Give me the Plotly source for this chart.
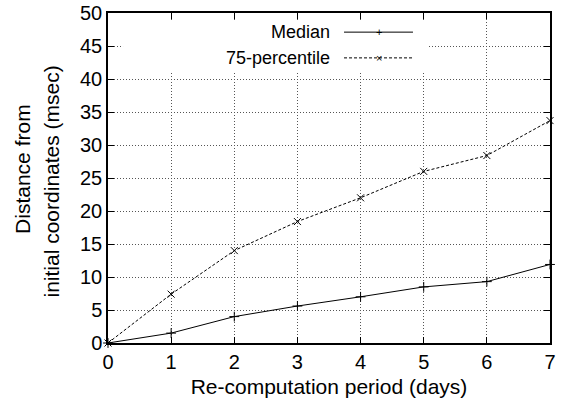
import plotly.graph_objects as go

days = [0, 1, 2, 3, 4, 5, 6, 7]
median = [0, 1.5, 4.0, 5.6, 7.0, 8.5, 9.3, 11.9]
pct75 = [0, 7.4, 14.0, 18.4, 22.0, 26.0, 28.4, 33.7]
x_ticks = [0, 1, 2, 3, 4, 5, 6, 7]
y_ticks = [0, 5, 10, 15, 20, 25, 30, 35, 40, 45, 50]

FONT = "Liberation Sans, Arial, sans-serif"
TICK_FS = 20
TITLE_FS = 21
LEG_FS = 18

fig = go.Figure()
fig.add_trace(go.Scatter(
    x=days, y=median, mode="lines+markers", name="Median",
    line=dict(color="black", width=1),
    marker=dict(symbol="cross-thin", size=7, line=dict(color="black", width=1)),
    cliponaxis=False, showlegend=False))
fig.add_trace(go.Scatter(
    x=days, y=pct75, mode="lines+markers", name="75-percentile",
    line=dict(color="black", width=1, dash="3px,2px"),
    marker=dict(symbol="x-thin", size=7, line=dict(color="black", width=1)),
    cliponaxis=False, showlegend=False))

axis_common = dict(
    showline=True, linecolor="black", linewidth=1.5, mirror="ticks",
    ticks="inside", ticklen=6, tickcolor="black", tickwidth=1,
    showgrid=True, gridcolor="#555", griddash="1px,2px", gridwidth=1,
    zeroline=False, automargin=False,
    tickfont=dict(family=FONT, size=TICK_FS, color="black"),
)

fig.update_xaxes(range=[0, 7], tickvals=x_ticks, ticktext=[str(v) for v in x_ticks],
                 title=dict(text="Re-computation period (days)",
                            font=dict(family=FONT, size=TITLE_FS, color="black"), standoff=8),
                 **axis_common)
fig.update_yaxes(range=[0, 50], tickvals=y_ticks, ticktext=[str(v) for v in y_ticks],
                 **axis_common)

# legend box (gnuplot style: text then sample)
fig.add_shape(type="rect", xref="paper", yref="paper", x0=0.034, x1=0.724, y0=0.821, y1=0.979,
              fillcolor="white", line=dict(width=0), layer="above")
leg = [("Median", 0.942, "solid", "+"), ("75-percentile", 0.864, "3px,2px", "×")]
for name, yy, dash, sym in leg:
    fig.add_annotation(xref="paper", yref="paper", x=0.507, y=yy, text=name, showarrow=False,
                       xanchor="right", yanchor="middle", font=dict(family=FONT, size=LEG_FS, color="black"))
    fig.add_shape(type="line", xref="paper", yref="paper", x0=0.534, x1=0.690, y0=yy, y1=yy,
                  line=dict(color="black", width=1, dash=dash), layer="above")
    fig.add_annotation(xref="paper", yref="paper", x=0.613, y=yy, text=sym, showarrow=False,
                       xanchor="center", yanchor="middle", font=dict(family=FONT, size=11, color="black"))

# y title (two lines)
for txt, xx, yy in [("Distance from", -0.195, 0.527), ("initial coordinates (msec)", -0.127, 0.489)]:
    fig.add_annotation(xref="paper", yref="paper", x=xx, y=yy, text=txt, textangle=-90,
                       showarrow=False, xanchor="center", yanchor="middle",
                       font=dict(family=FONT, size=TITLE_FS, color="black"))

fig.update_layout(
    width=562, height=399,
    margin=dict(l=108, r=12, t=13, b=56),
    plot_bgcolor="white", paper_bgcolor="white",
    font=dict(family=FONT, size=TICK_FS, color="black"),
)

fig.write_html("out.html")
